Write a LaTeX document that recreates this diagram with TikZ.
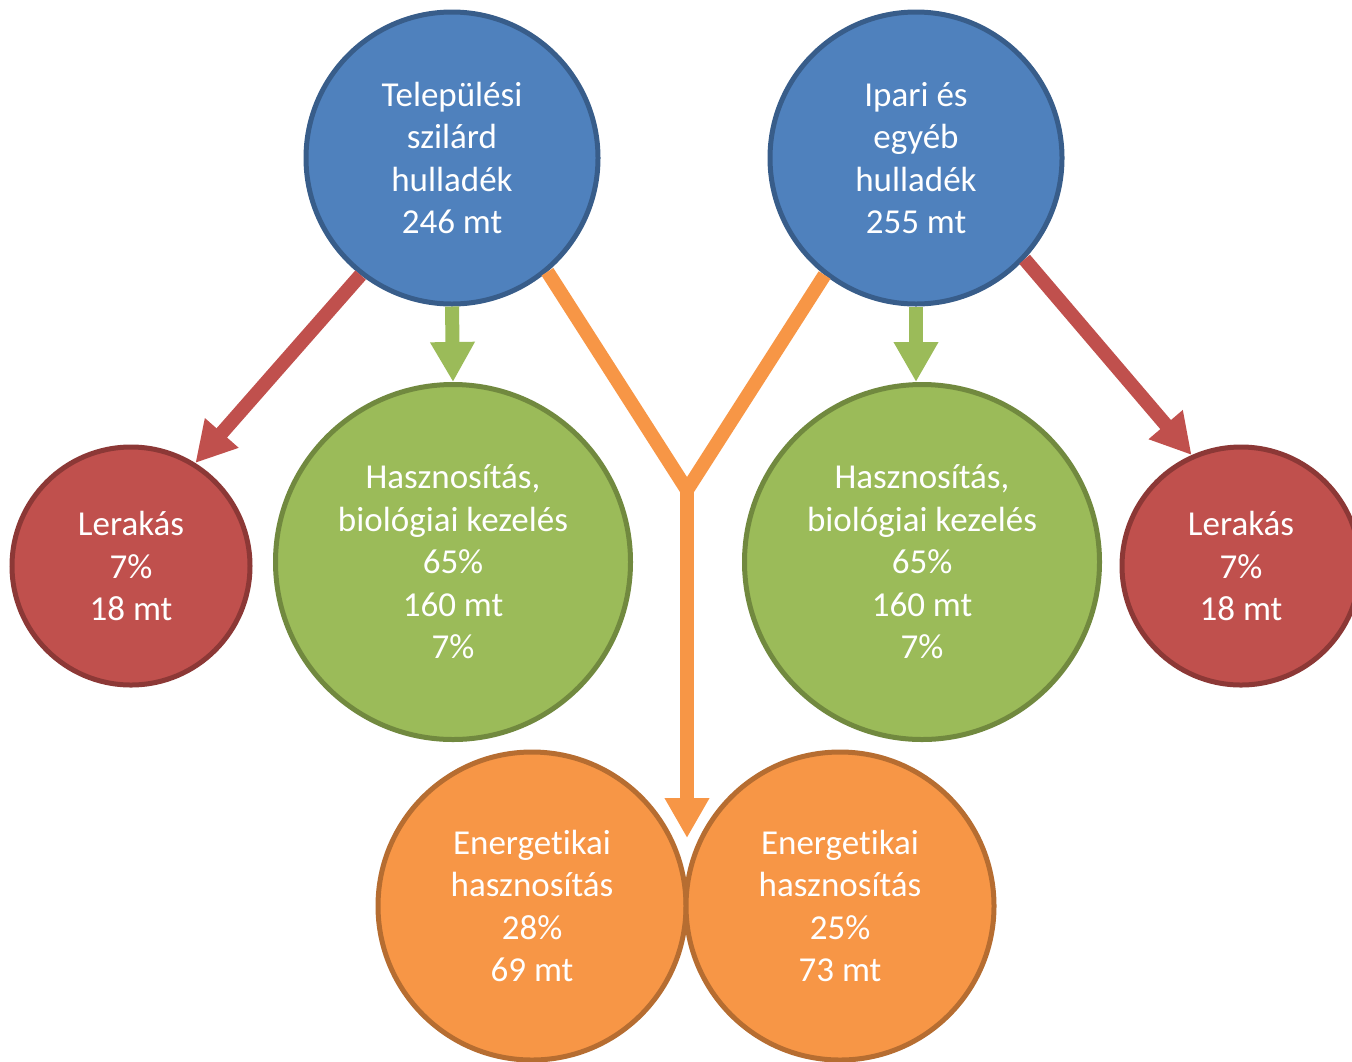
\documentclass[tikz,border=0pt]{standalone}
\usepackage{fontspec}
\setmainfont{Carlito}[Ligatures=NoCommon]
\usepackage{tikz}
\usetikzlibrary{arrows.meta,calc,positioning}
\definecolor{srcblue}{HTML}{4F81BD}
\definecolor{srcblueline}{HTML}{385D8A}
\definecolor{landred}{HTML}{C0504D}
\definecolor{landredline}{HTML}{8C3836}
\definecolor{recgreen}{HTML}{9BBB59}
\definecolor{recgreenline}{HTML}{71893F}
\definecolor{enorange}{HTML}{F79646}
\definecolor{enorangeline}{HTML}{B66D31}

\begin{document}
\begin{tikzpicture}[x=0.5pt,y=-0.5pt,
		bubble/.style={circle, draw, line width=2.5pt, text=white, align=center, inner sep=0pt,
			font=\fontsize{17.5}{21.25}\selectfont},
		source/.style={bubble, fill=srcblue, draw=srcblueline, minimum size=146pt},
		landfill/.style={bubble, fill=landred, draw=landredline, minimum size=119pt},
		recycle/.style={bubble, fill=recgreen, draw=recgreenline, minimum size=177.5pt},
		energy/.style={bubble, fill=enorange, draw=enorangeline, minimum size=154pt},
		flow/.style={line width=7pt, -{Triangle[length=20pt,width=21pt]}},
		]
	\useasboundingbox (0,0) rectangle (1352,1061);

		% sources
		\node[source] (tsh) at (452,158) {Települési\\szilárd\\hulladék\\246 mt};
		\node[source] (ipari) at (916,158) {Ipari és\\egyéb\\hulladék\\255 mt};
	
		% targets
		\node[landfill] (ler1) at (131,566) {Lerakás\\7\%\\18 mt};
		\node[recycle] (has1) at (453,562) {Hasznosítás,\\biológiai kezelés\\65\%\\160 mt\\7\%};
		\node[recycle] (has2) at (922,562) {Hasznosítás,\\biológiai kezelés\\65\%\\160 mt\\7\%};
		\node[landfill] (ler2) at (1241,566) {Lerakás\\7\%\\18 mt};
		\node[energy] (en1) at (532,906) {Energetikai\\hasznosítás\\28\%\\69 mt};
		\node[energy] (en2) at (840,906) {Energetikai\\hasznosítás\\25\%\\73 mt};
	
		\coordinate (junc) at (687,490);
		\coordinate (tip) at (687,838);
	
		\draw[flow, draw=landred, fill=landred] (tsh.-128) -- (ler1.58);
		\draw[flow, draw=landred, fill=landred] (ipari.-43) -- (ler2.114);
		\draw[flow, draw=recgreen, fill=recgreen] (tsh.south) -- (has1.north);
		\draw[flow, draw=recgreen, fill=recgreen] (ipari.south) -- (ipari.south |- has2.north);
		\draw[line width=7pt, draw=enorange, line join=miter] (tsh.-50) -- (junc) -- (ipari.-128);
		\draw[flow, draw=enorange, fill=enorange] (junc) -- (tip);
	
	\end{tikzpicture}
\end{document}
